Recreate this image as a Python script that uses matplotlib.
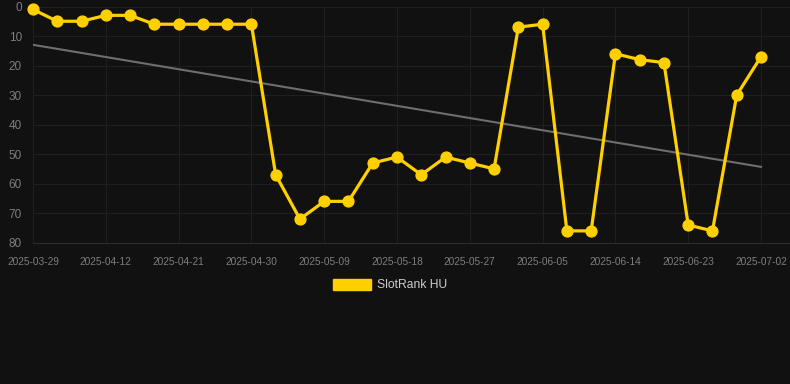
import numpy as np
import matplotlib
matplotlib.use('Agg')
import matplotlib.pyplot as plt
import matplotlib.patches as mpatches

# --- DATA ---
tick_labels = ['2025-03-29', '2025-04-12', '2025-04-21', '2025-04-30', '2025-05-09',
               '2025-05-18', '2025-05-27', '2025-06-05', '2025-06-14', '2025-06-23',
               '2025-07-02']
ranks = [1, 5, 5, 3, 3, 6, 6, 6, 6, 6,
         57, 72, 66, 66, 53, 51, 57, 51, 53, 55,
         7, 6, 76, 76, 16, 18, 19, 74, 76, 30, 17]
series_name = 'SlotRank HU'

# --- STYLE ---
bg = '#111111'
gold = '#FFD000'
grid_c = '#1f1f1f'
txt_c = '#7d7d7d'
plt.rcParams['font.family'] = ['Liberation Sans', 'DejaVu Sans']

x = np.arange(len(ranks))
y = np.array(ranks, dtype=float)
slope, icpt = np.polyfit(x, y, 1)
trend = slope * x + icpt

fig = plt.figure(figsize=(7.9, 3.84), dpi=100, facecolor=bg)
ax = fig.add_axes([33 / 790, 1 - 242.7 / 384, 1 - 33 / 790, (242.7 - 6.5) / 384])
ax.set_facecolor(bg)

ax.plot(x, trend, color='#6e6e6e', lw=1.5, zorder=2)
ax.plot(x, y, color=gold, lw=2.3, marker='o', markersize=7.8, zorder=3, clip_on=False)

ax.set_xlim(0, 30 + 29 / 24.27)
ax.set_ylim(80, 0)
ax.set_yticks(range(0, 81, 10))
ax.set_xticks(x[::3])
ax.set_xticklabels(tick_labels)

ax.grid(True, color=grid_c, lw=0.8)
ax.set_axisbelow(True)
for s in ['top', 'right', 'left']:
    ax.spines[s].set_visible(False)
ax.spines['bottom'].set_color('#2c2c2c')
ax.tick_params(axis='both', length=0, colors=txt_c)
ax.tick_params(axis='y', labelsize=8.5, pad=8)
ax.tick_params(axis='x', labelsize=7.3, pad=10)

handle = mpatches.Patch(color=gold, label=series_name)
leg = fig.legend(handles=[handle], loc='center', bbox_to_anchor=(390 / 790, 1 - 285 / 384),
                 frameon=False, fontsize=8.7, handlelength=3.1, handleheight=1.0,
                 handletextpad=0.5)
for t in leg.get_texts():
    t.set_color('#cccccc')

fig.savefig('out.png', dpi=100, facecolor=bg)
